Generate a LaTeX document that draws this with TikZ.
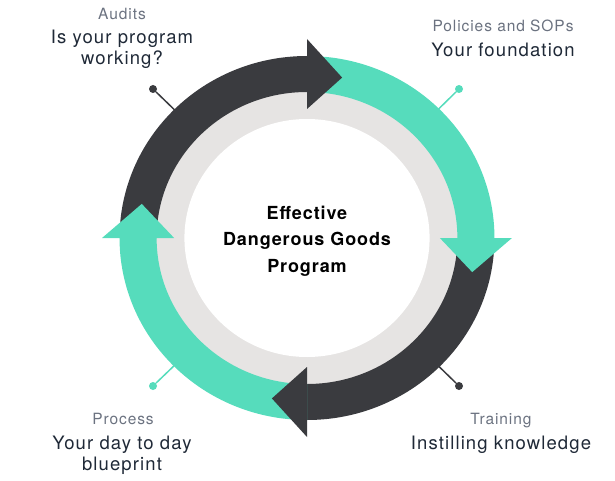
\documentclass[tikz,border=0pt]{standalone}
\usepackage{fontspec}
\setmainfont{TeX Gyre Heros}
\newfontfamily\lblfont[LetterSpace=6]{TeX Gyre Heros}
\newfontfamily\midfont[LetterSpace=5]{TeX Gyre Heros}

\definecolor{dgteal}{HTML}{56DCBC}
\definecolor{dgdark}{HTML}{3A3B3F}
\definecolor{dgring}{HTML}{E6E4E3}
\definecolor{dggray}{HTML}{6B7280}
\definecolor{dgtext}{HTML}{1F2937}

\begin{document}
\begin{tikzpicture}[x=1pt,y=1pt,
  title/.style={anchor=base,text=dggray,font=\lblfont\fontsize{15.5}{18}\selectfont},
  sub/.style={anchor=base,text=dgtext,align=center,font=\lblfont\fontsize{18.5}{21}\selectfont},
  dot/.style={circle,inner sep=0pt,minimum size=8pt},
  conn/.style={line width=1.5pt}]
  \useasboundingbox (0,0) rectangle (615,480);
  \coordinate (ctr) at (307,242);
  % dots and connectors, ring drawn over their inner ends
  \node[dot,fill=dgdark] (da) at (153,391) {};
  \node[dot,fill=dgteal] (dp) at (459,391) {};
  \node[dot,fill=dgteal] (dr) at (153,94) {};
  \node[dot,fill=dgdark] (dt) at (459,94) {};
  \draw[conn,dgdark] (da) -- (ctr);
  \draw[conn,dgteal] (dp) -- (ctr);
  \draw[conn,dgteal] (dr) -- (ctr);
  \draw[conn,dgdark] (dt) -- (ctr);
  \begin{scope}[shift={(ctr)},xscale=1.03]
    \fill[dgring] (0,0) circle[radius=148];
    \fill[white] (0,0) circle[radius=119];
    \foreach \s/\c in {180/dgdark,90/dgteal,0/dgdark,-90/dgteal}
      \fill[\c] (\s:182) arc[start angle=\s,end angle=\s-90,radius=182]
        -- (\s-90:146) arc[start angle=\s-90,end angle=\s,radius=146] -- cycle;
    \foreach \e/\c in {90/dgdark,0/dgteal,-90/dgdark,180/dgteal}
      \fill[\c] (\e:129) -- (\e:199) -- (\e-12:164) -- cycle;
  \end{scope}
  % base of a multi-line node is its last line
  \node[anchor=base,align=center,font=\midfont\bfseries\fontsize{18}{26.5}\selectfont]
    (prog) at (307,208) {Effective\\Dangerous Goods\\Program};
  \node[title] (audits) at (122,460) {Audits};
  \node[sub] (auditstxt) at (122,415) {Is your program\\working?};
  \node[title] (policies) at (503,448) {Policies and SOPs};
  \node[sub] (policiestxt) at (503,423) {Your foundation};
  \node[title] (process) at (123,56) {Process};
  \node[sub] (processtxt) at (122,10) {Your day to day\\blueprint};
  \node[title] (training) at (501,56) {Training};
  \node[sub] (trainingtxt) at (501,31) {Instilling knowledge};
\end{tikzpicture}
\end{document}
